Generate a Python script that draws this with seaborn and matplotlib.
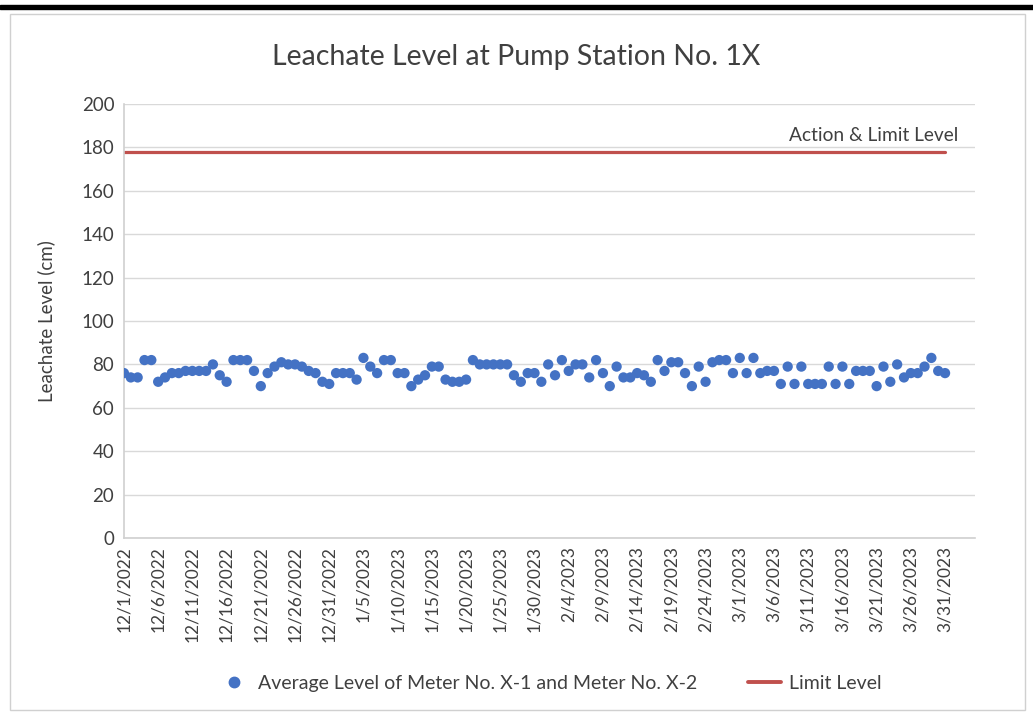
import matplotlib
matplotlib.use("Agg")
import matplotlib.pyplot as plt
import matplotlib.patches as mpatches
from matplotlib.lines import Line2D
import seaborn as sns
import pandas as pd
import numpy as np

# data (one value per day, 12/1/2022 - 3/31/2023)
start_date = "2022-12-01"
end_date = "2023-03-31"
avg_level = [76, 74, 74, 82, 82, 72, 74, 76, 76, 77, 77, 77, 77, 80, 75, 72, 82, 82, 82, 77,
             70, 76, 79, 81, 80, 80, 79, 77, 76, 72, 71, 76, 76, 76, 73, 83, 79, 76, 82, 82,
             76, 76, 70, 73, 75, 79, 79, 73, 72, 72, 73, 82, 80, 80, 80, 80, 80, 75, 72, 76,
             76, 72, 80, 75, 82, 77, 80, 80, 74, 82, 76, 70, 79, 74, 74, 76, 75, 72, 82, 77,
             81, 81, 76, 70, 79, 72, 81, 82, 82, 76, 83, 76, 83, 76, 77, 77, 71, 79, 71, 79,
             71, 71, 71, 79, 71, 79, 71, 77, 77, 77, 70, 79, 72, 80, 74, 76, 76, 79, 83, 77, 76]
limit_level = 178
series_names = ["Average Level of Meter No. X-1 and Meter No. X-2", "Limit Level"]
title = "Leachate Level at Pump Station No. 1X"
y_label = "Leachate Level (cm)"
limit_label = "Action & Limit Level"

dates = pd.date_range(start_date, end_date, freq="D")
df = pd.DataFrame({"date": dates, "level": avg_level, "limit": limit_level})

sns.set_style("white")
plt.rcParams["font.family"] = ["Lato", "DejaVu Sans"]

blue = "#4472C4"
red = "#C0504D"
grey_txt = "#404040"

fig = plt.figure(figsize=(10.33, 7.16), dpi=100)
ax = fig.add_axes([0.12, 0.2486, 0.824, 0.6061])

# outer frame and black bar like the screenshot
fig.patches.append(mpatches.Rectangle((0.0, 0.9875), 1.0, 0.006, transform=fig.transFigure,
                                      color="black", zorder=0))
fig.patches.append(mpatches.Rectangle((0.01, 0.008), 0.982, 0.973, transform=fig.transFigure,
                                      fill=False, edgecolor="#d0d0d0", lw=1, zorder=0))

sns.lineplot(data=df, x="date", y="limit", color=red, linewidth=2.3, ax=ax, zorder=2)
sns.scatterplot(data=df, x="date", y="level", color=blue, s=55, edgecolor="none", ax=ax, zorder=3)

ax.set_ylim(0, 200)
ax.set_yticks(np.arange(0, 201, 20))
ax.set_xlim(dates[0], dates[0] + pd.Timedelta(days=124.4))
ticks = pd.date_range(start_date, end_date, freq="5D")
ax.set_xticks(ticks)
ax.set_xticklabels([f"{d.month}/{d.day}/{d.year}" for d in ticks], rotation=90,
                   fontsize=12.5, color=grey_txt)
ax.tick_params(axis="y", labelsize=13.5, colors=grey_txt, length=0, pad=7)
ax.tick_params(axis="x", length=0, pad=6)

ax.grid(axis="y", color="#d9d9d9", linewidth=1)
ax.grid(axis="x", visible=False)
for s in ["top", "right"]:
    ax.spines[s].set_visible(False)
for s in ["left", "bottom"]:
    ax.spines[s].set_color("#d0d0d0")
    ax.spines[s].set_linewidth(1.2)

ax.set_xlabel("")
ax.set_ylabel(y_label, fontsize=13.5, color=grey_txt, labelpad=19)
fig.text(0.5, 0.92, title, ha="center", va="center", fontsize=20.5, color=grey_txt)
ax.text(dates[-1] + pd.Timedelta(days=1.9), 181.5, limit_label, ha="right", va="bottom",
        fontsize=13.8, color=grey_txt)

handles = [Line2D([], [], marker="o", linestyle="none", color=blue, markersize=7.5),
           Line2D([], [], color=red, linewidth=2.8)]
fig.legend(handles, series_names, loc="center", bbox_to_anchor=(0.532, 0.046), ncol=2,
           frameon=False, fontsize=14, labelcolor=grey_txt, columnspacing=2.6,
           handlelength=1.7, handletextpad=0.4)

fig.savefig("out.png", dpi=100)
